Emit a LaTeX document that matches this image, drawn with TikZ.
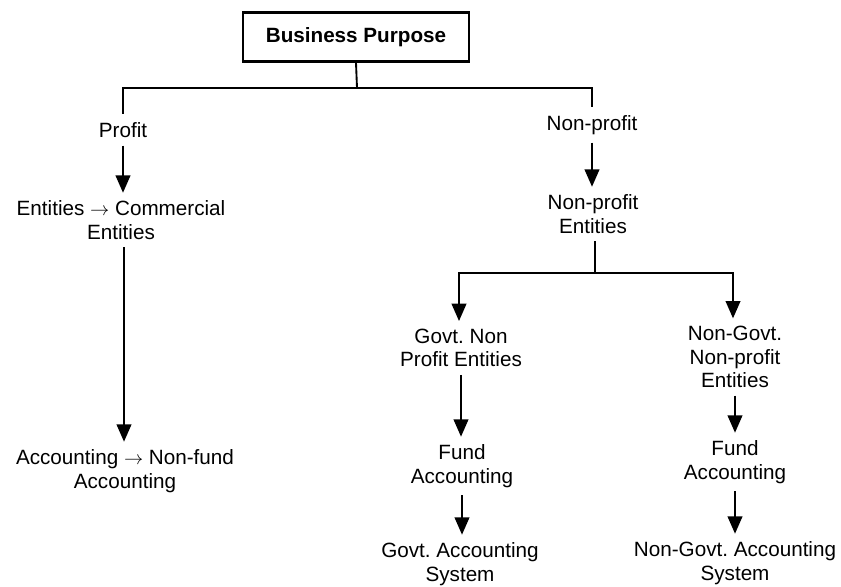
\documentclass[tikz,border=0pt]{standalone}
\usepackage{fontspec}
\setmainfont{Liberation Sans}
\usetikzlibrary{arrows.meta}

\begin{document}
\frenchspacing
\begin{tikzpicture}[x=0.75pt,y=0.75pt,yscale=-1,
  txt/.style={align=center,inner sep=1pt,outer sep=5pt,font=\fontsize{15.5}{17.5}\selectfont},
  arr/.style={-{Triangle[width=11pt,length=13pt]},line width=1.4pt},
  ln/.style={line width=1.4pt}]

\useasboundingbox (0,0) rectangle (841,586);

\node [draw,line width=2pt,minimum width=169.5pt,minimum height=36.75pt,font=\bfseries\fontsize{15.5}{17}\selectfont] (bp) at (356,37) {Business Purpose};
\coordinate (top) at (357,88);

% left side
\node [txt] (profit) at (123,130) {Profit};
\node [txt] (commer) at (121,220) {Entities $\rightarrow$ Commercial\\Entities};
\node [txt] (nonfund) at (125,471) {Accounting $\rightarrow$ Non-fund\\Accounting};

% right side
\node [txt] (nonprofit) at (592,125) {Non-profit};
\node [txt] (npent) at (593,214) {Non-profit\\Entities};
\coordinate (split) at (595,273);
\node [txt] (govt) at (461,348) {Govt. Non\\Profit Entities};
\node [txt] (fundA) at (462,466) {Fund\\Accounting};
\node [txt] (gas) at (460,564) {Govt. Accounting\\System};
\node [txt] (ngovt) at (735,357) {Non-Govt.\\Non-profit\\Entities};
\node [txt] (fundB) at (735,462) {Fund\\Accounting};
\node [txt] (ngas) at (735,563) {Non-Govt. Accounting\\System};

\draw [ln] (bp.south) -- (top);
\draw [ln] (top) -| (profit.north);
\draw [ln] (top) -| (nonprofit.north);
\draw [arr] (profit.south) -- (profit.south |- commer.north);
\draw [arr] (commer.south -| 124,0) -- (nonfund.north -| 124,0);
\draw [arr] (nonprofit.south) -- (nonprofit.south |- npent.north);
\draw [ln] (npent.south -| split) -- (split);
\draw [arr] (split) -| (govt.north -| 459,0);
\draw [arr] (split) -| (ngovt.north -| 733,0);
\draw [arr] (govt.south) -- (govt.south |- fundA.north);
\draw [arr] (fundA.south) -- (fundA.south |- gas.north);
\draw [arr] (ngovt.south) -- (ngovt.south |- fundB.north);
\draw [arr] (fundB.south) -- (fundB.south |- ngas.north);

\end{tikzpicture}
\end{document}
